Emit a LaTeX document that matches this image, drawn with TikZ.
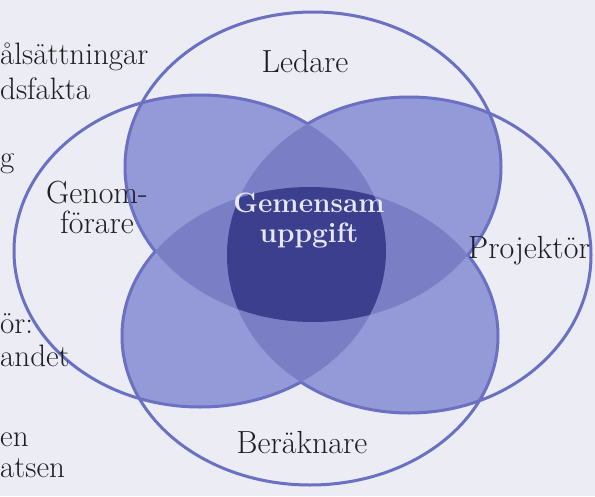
\documentclass[tikz,border=0pt]{standalone}
\usepackage{fontspec}
\definecolor{bgcol}{HTML}{ECECF4}
\definecolor{edgecol}{HTML}{6A70C2}
\definecolor{twocol}{HTML}{9499D8}
\definecolor{threecol}{HTML}{797EC5}
\definecolor{fourcol}{HTML}{3B3F8D}
\definecolor{inktext}{HTML}{1E1E24}
\definecolor{lighttext}{HTML}{E6E8F6}
\begin{document}
\begin{tikzpicture}[x=1pt,y=-1pt,
  edge/.style={draw=edgecol,line width=3pt},
  role/.style={text=inktext,font=\fontsize{32}{32}\selectfont,anchor=base,inner sep=0pt,align=center},
  side/.style={text=inktext,font=\fontsize{31}{31}\selectfont,anchor=base west,inner sep=0pt},
  core/.style={text=lighttext,font=\fontsize{28}{30}\selectfont\bfseries,anchor=base,inner sep=0pt,align=center}]
\useasboundingbox (0,0) rectangle (595,496);
\fill[bgcol] (0,0) rectangle (595,496);

% the four roles as ellipses
\def\shT{(313,167) ellipse [x radius=188, y radius=155]}
\def\shL{(200,251) ellipse [x radius=186, y radius=156]}
\def\shR{(409,255) ellipse [x radius=182, y radius=158]}
\def\shB{(310,336) ellipse [x radius=188, y radius=149]}
\def\bigbox{(-60,-60) rectangle (660,560)}

\def\inT{\clip \shT;}\def\outT{\clip \shT \bigbox;}
\def\inL{\clip \shL;}\def\outL{\clip \shL \bigbox;}
\def\inR{\clip \shR;}\def\outR{\clip \shR \bigbox;}
\def\inB{\clip \shB;}\def\outB{\clip \shB \bigbox;}

% overlaps of two
\newcommand\lensfill[3]{\begin{scope}#1\fill[#3] #2;\end{scope}}
\lensfill{\inT}{\shL}{twocol}
\lensfill{\inT}{\shR}{twocol}
\lensfill{\inT}{\shB}{twocol}
\lensfill{\inL}{\shR}{twocol}
\lensfill{\inL}{\shB}{twocol}
\lensfill{\inR}{\shB}{twocol}
% overlaps of three
\lensfill{\inT\inL}{\shR}{threecol}
\lensfill{\inT\inL}{\shB}{threecol}
\lensfill{\inT\inR}{\shB}{threecol}
\lensfill{\inL\inR}{\shB}{threecol}
% the shared core
\lensfill{\inT\inL\inR}{\shB}{fourcol}

% outlines: only where a filled area meets an unfilled one
\newcommand\edgepart[4]{\begin{scope}[even odd rule]#2#3#4\draw[edge] #1;\end{scope}}
\newcommand\fulledge[4]{%
  \edgepart{#1}{\csname out#2\endcsname}{\csname out#3\endcsname}{\csname out#4\endcsname}%
  \edgepart{#1}{\csname in#2\endcsname}{\csname out#3\endcsname}{\csname out#4\endcsname}%
  \edgepart{#1}{\csname out#2\endcsname}{\csname in#3\endcsname}{\csname out#4\endcsname}%
  \edgepart{#1}{\csname out#2\endcsname}{\csname out#3\endcsname}{\csname in#4\endcsname}}
\fulledge{\shT}{L}{R}{B}
\fulledge{\shL}{T}{R}{B}
\fulledge{\shR}{T}{L}{B}
\fulledge{\shB}{T}{L}{R}

% role labels
\node[role] (ledare) at (305,72) {Ledare};
\node[role] (genom) at (97,233) {Genom-\\[-2pt]förare};
\node[role,anchor=base west] (projektor) at (468,258) {Projektör};
\node[role] (berakn) at (302,453) {Beräknare};
\node[core] (core) at (309,242) {Gemensam\\uppgift};

% running text at the left edge
\node[side] (s1) at (0,64) {ålsättningar};
\node[side] (s2) at (0,99) {dsfakta};
\node[side] (s3) at (0,167) {g};
\node[side] (s4) at (0,333) {ör:};
\node[side] (s5) at (0,366) {andet};
\node[side] (s6) at (0,446) {en};
\node[side] (s7) at (0,477) {atsen};
\end{tikzpicture}
\end{document}
